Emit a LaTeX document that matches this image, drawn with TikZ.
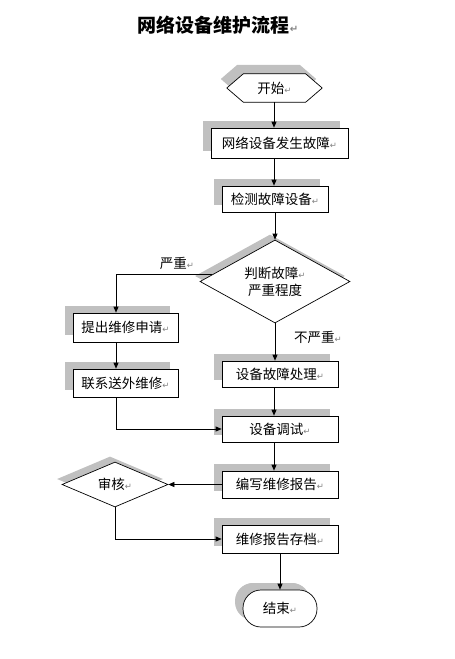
\documentclass[tikz,border=0pt]{standalone}
\usepackage{fontspec}
\newfontfamily\cjk{Noto Sans CJK SC}
\newfontfamily\dejavu{DejaVu Sans}
\usetikzlibrary{shapes.geometric,shadows,arrows.meta,calc,backgrounds}
\definecolor{shadowgray}{RGB}{192,192,192}
\definecolor{markgray}{RGB}{130,130,130}
\newcommand\parmk{{\dejavu\color{markgray}\fontsize{8.5}{8.5}\selectfont ↵}}
\begin{document}
\begin{tikzpicture}[x=1pt,y=-1pt,
  txt/.style={font=\cjk\fontsize{13.5}{17}\selectfont, inner sep=0pt, align=center},
  box/.style={txt, draw=black, line width=0.7pt, fill=white,
    general shadow={fill=shadowgray, shadow xshift=-8pt, shadow yshift=7pt}},
  dia/.style={txt, diamond, draw=black, line width=0.7pt, fill=white, aspect=1.8},
  arr/.style={line width=0.7pt, -{Triangle[length=6pt,width=5pt]}},
  ln/.style={line width=0.7pt}]
\useasboundingbox (0,0) rectangle (455,659);
\coordinate (cx) at (274,0);
% title
\node[font=\cjk\bfseries\fontsize{19}{19}\selectfont, inner sep=0pt] (t) at (218,25) {网络设备维护流程{\dejavu\color{markgray}\fontsize{10}{10}\selectfont ↵}};
% start
\node[txt, minimum width=95pt, minimum height=28pt] (s) at (274.5,88) {开始\parmk};
% boxes
\node[box, minimum width=137pt, minimum height=30pt] (b1) at (279.5,143) {网络设备发生故障\parmk};
\node[box, minimum width=106pt, minimum height=26pt] (b2) at (275,199) {检测故障设备\parmk};
\node[dia, minimum width=150pt, minimum height=83pt,
  general shadow={fill=shadowgray, shadow xshift=-5pt, shadow yshift=5.5pt}] (d1) at (275,281.5) {判断故障\parmk\\严重程度};
\node[box, minimum width=105pt, minimum height=29pt] (b3) at (125.5,327.5) {提出维修申请\parmk};
\node[box, minimum width=105pt, minimum height=28pt] (b4) at (125.5,383) {联系送外维修\parmk};
\node[box, minimum width=116pt, minimum height=26pt] (b5) at (280,374) {设备故障处理\parmk};
\node[box, minimum width=116pt, minimum height=26pt] (b6) at (280,429) {设备调试\parmk};
\node[box, minimum width=116pt, minimum height=27pt] (b7) at (280,484.5) {编写维修报告\parmk};
\node[box, minimum width=116pt, minimum height=28pt] (b8) at (280,539) {维修报告存档\parmk};
\node[dia, minimum width=106pt, minimum height=45pt,
  general shadow={fill=shadowgray, shadow xshift=-5pt, shadow yshift=5.5pt}] (h) at (115,484.5) {审核\parmk};
\node[box, rounded corners=18pt, minimum width=74pt, minimum height=37pt,
  general shadow={fill=shadowgray, shadow xshift=-7pt, shadow yshift=7pt}] (e) at (280,608.5) {结束\parmk};
% labels
\node[txt] (l1) at (177,263) {严重\parmk};
\node[txt] (l2) at (318,337) {不严重\parmk};
% hexagon for start
\begin{scope}[on background layer]
\fill[white] (0,0) rectangle (455,659);
\fill[shadowgray] ([shift={(-6,-9)}]s.west) -- ([shift={(10.5,-9)}]s.north west) -- ([shift={(-22.5,-9)}]s.north east) -- ([shift={(-6,-9)}]s.east) -- ([shift={(-22.5,-9)}]s.south east) -- ([shift={(10.5,-9)}]s.south west) -- cycle;
\draw[ln, fill=white] (s.west) -- ([xshift=16.5pt]s.north west) -- ([xshift=-16.5pt]s.north east) -- (s.east) -- ([xshift=-16.5pt]s.south east) -- ([xshift=16.5pt]s.south west) -- cycle;
\end{scope}
% connectors
\draw[arr] (s.south -| cx) -- (b1.north -| cx);
\draw[arr] (b1.south -| cx) -- (b2.north -| cx);
\draw[arr] (b2.south) -- (d1.north);
\draw[arr] (d1.south) -- (b5.north -| d1.south);
\draw[arr] (b5.south -| cx) -- (b6.north -| cx);
\draw[arr] (b6.south -| cx) -- (b7.north -| cx);
\draw[arr] (b8.south) -- (e.north);
\coordinate (dA) at ($(d1.west)!0.17!(d1.north)$);
\draw[arr] (dA) -| ([xshift=-9.5pt]b3.north);
\draw[arr] ([xshift=-9.5pt]b3.south) -- ([xshift=-9.5pt]b4.north);
\draw[arr] ([xshift=-9.5pt]b4.south) |- (b6.west);
\draw[arr] (b7.west) -- (h.east);
\draw[arr] (h.south) |- (b8.west);
\end{tikzpicture}
\end{document}
